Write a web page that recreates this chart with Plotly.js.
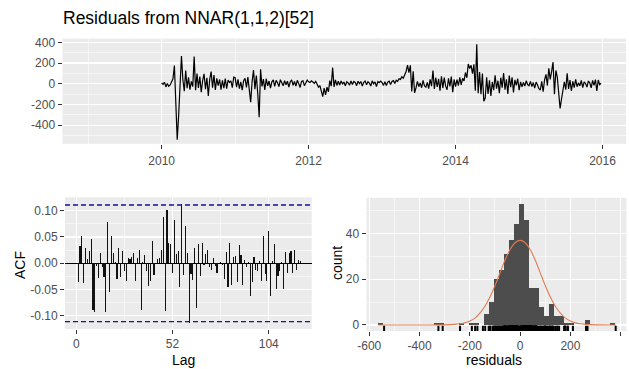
<!DOCTYPE html>
<html>
<head>
<meta charset="utf-8">
<script src="https://cdn.plot.ly/plotly-3.0.1.min.js"></script>
<style>html,body{margin:0;padding:0;background:#fff;}#chart{width:629px;height:369px;}</style>
</head>
<body>
<div id="chart"></div>
<script>
// ---- Data ----
const titleText = "Residuals from NNAR(1,1,2)[52]";
const startYear = 2010;
const frequency = 52;

const res2010 = [8, -6, 14, -31, 2, -24, -12, 19, 47, 175, -192, -541, -308, -57, 268, 38, -72, 127, -43, 61, -58, 22, -29, 262, -63, 97, -41, 68, -83, 31, 96, -52, 57, -118, 43, 117, -38, 83, -61, 52, -18, 41, -57, 33, -44, 49, -47, 36, 12, 27, -39, 63];
const res2011 = [58, -33, 42, -48, 17, -62, 28, 53, -37, 64, -88, -179, 21, 131, -53, 78, -97, -325, 139, -27, 44, -61, 48, -22, 26, -43, 18, 36, -26, 32, 9, -28, 39, 3, -21, 29, -11, 24, -32, 19, 37, -16, 21, -24, 33, 1, -36, 22, 28, -19, 13, 34];
const res2012 = [18, 11, 27, 14, 4, 23, -9, -33, -18, -63, -125, -42, -108, -34, -79, 29, -23, 155, -31, 38, -17, 24, -12, 26, -2, 16, -21, 18, 7, -14, 27, -8, 22, 12, -19, 24, 1, 21, -23, 13, 26, -11, 19, 6, -22, 28, -1, 17, -28, 21, 9, 24];
const res2013 = [11, -16, 19, -18, 16, 24, -7, 21, 29, 3, 34, 22, 48, 42, 67, 53, 88, 118, 180, 108, 178, -76, 121, -89, -41, 23, -29, 8, -39, 32, -21, -34, 12, -48, 43, -23, 128, -51, 58, -32, 47, -68, 71, -42, 59, -24, -59, 52, -27, 69, -81, 41];
const res2014 = [-28, 39, -19, 62, -11, 51, 27, 108, 57, 190, 147, 178, 98, 188, -69, 380, -91, 113, -102, 99, -170, -139, 61, -98, 32, -119, 17, -63, 82, -49, 29, -92, 58, -38, 102, -57, 43, -99, 78, -33, 62, -84, 37, -17, 48, -62, 18, -31, 13, -22, 28, -8];
const res2015 = [-19, 22, -28, 11, -42, 16, -13, -49, -61, 23, -78, 38, 91, -18, 148, 42, 119, 210, -101, 128, 63, -108, -239, -148, -39, 19, -58, 101, -51, 34, -69, 22, -37, 41, -29, 8, -21, 31, -38, 18, 2, -33, 26, 9, -41, 32, -17, 39, -71, 36, -9, 4];

const acfValues = [
 -0.035, 0.032, 0.051, -0.037, 0.029, 0.008, 0.024, 0.047, -0.088, -0.093,
 -0.005, -0.028, 0.019, -0.008, -0.027, -0.093, 0.078, -0.055, 0.051, 0.019,
 0.003, -0.029, 0.029, -0.026, 0.023, -0.015, -0.033, 0.011, 0.009, 0.012,
 0.019, -0.034, 0.010, 0.025, -0.089, 0.003, 0.015, -0.015, -0.044, -0.034,
 0.043, -0.022, 0.000, 0.009, 0.010, 0.026, 0.088, -0.091, 0.102, 0.038,
 0.037, -0.019, 0.082, 0.017, 0.023, -0.046, 0.113, -0.022, 0.070, 0.019,
 -0.114, -0.021, -0.031, 0.029, -0.085, 0.036, -0.025, 0.038, -0.004, 0.018,
 0.025, -0.008, -0.012, 0.011, -0.006, -0.019, 0.000, 0.002, -0.004, -0.029,
 0.021, -0.046, 0.039, -0.042, 0.012, 0.013, -0.035, 0.035, 0.016, -0.042,
 0.006, -0.008, 0.003, -0.062, -0.035, 0.012, -0.012, -0.014, 0.005, -0.033,
 0.051, -0.020, -0.033, 0.062, -0.062, 0.004, 0.037, -0.049, -0.024, -0.014,
 0.003, -0.048, 0.021, -0.018, 0.020, 0.023, -0.019, 0.025, -0.012, 0.006,
 0.004
];

const binCenters = [-554, -334, -314, -234, -194, -174, -134, -114, -94, -74, -54, -34, -14, 6, 26, 46, 66, 86, 106, 126, 146, 166, 186, 206, 266, 366];
const binCounts  = [1, 1, 1, 1, 1, 1, 5, 10, 20, 24, 31, 37, 44, 53, 46, 16, 16, 8, 4, 9, 4, 4, 1, 1, 2, 1];
const binWidth = 20;

const curveX = [-564, -400, -300, -260, -240, -220, -200, -180, -160, -140, -120, -100, -80, -60, -40, -20, 0, 20, 40, 60, 80, 100, 120, 140, 160, 180, 200, 220, 240, 260, 300, 380];
const curveY = [0, 0, 0.05, 0.25, 0.5, 0.9, 1.7, 3.0, 5.2, 8.2, 12.2, 17.2, 22.8, 28.4, 33.0, 36.0, 37.0, 36.0, 33.0, 28.4, 22.8, 17.2, 12.2, 8.2, 5.2, 3.0, 1.7, 0.9, 0.5, 0.25, 0.05, 0];

const tsTickVals = [2010, 2012, 2014, 2016];
const tsTickText = ["2010", "2012", "2014", "2016"];
const tsYTickVals = [-400, -200, 0, 200, 400];
const tsYTickText = ["-400", "-200", "0", "200", "400"];
const acfXTickVals = [0, 52, 104];
const acfXTickText = ["0", "52", "104"];
const acfYTickVals = [-0.10, -0.05, 0, 0.05, 0.10];
const acfYTickText = ["-0.10", "-0.05", "0.00", "0.05", "0.10"];
const histXTickVals = [-600, -400, -200, 0, 200, 400];
const histXTickText = ["-600", "-400", "-200", "0", "200", "400"];
const histYTickVals = [0, 20, 40];
const histYTickText = ["0", "20", "40"];

// ---- Build ----
const residuals = [].concat(res2010, res2011, res2012, res2013, res2014, res2015);
const time = residuals.map((_, i) => startYear + i / frequency);
const acfLags = acfValues.map((_, i) => i + 1);
const ci = 1.96 / Math.sqrt(residuals.length);

const W = 629, H = 369;
const px = v => v / W;
const py = v => 1 - v / H;

const FONT = "Liberation Sans, Arial, sans-serif";
const tickFont = {family: FONT, size: 12, color: "#4D4D4D"};
function ax(extra) {
  return Object.assign({
    showgrid: true, gridcolor: "#FFFFFF", gridwidth: 1.1,
    zeroline: false, showline: false,
    ticks: "outside", ticklen: 4, tickwidth: 1, tickcolor: "#333333",
    tickfont: tickFont, tickmode: "array", fixedrange: true
  }, extra);
}
function minor(vals) {
  return {tickvals: vals, showgrid: true, gridcolor: "#FFFFFF", gridwidth: 0.55, ticks: ""};
}

const traces = [
  {type: "scatter", mode: "lines", x: time, y: residuals, xaxis: "x", yaxis: "y",
   line: {color: "#000000", width: 1.2}, hoverinfo: "skip"},
  {type: "bar", x: acfLags, y: acfValues, xaxis: "x2", yaxis: "y2", width: 0.6,
   marker: {color: "#111111", line: {width: 0}}, hoverinfo: "skip"},
  {type: "bar", x: binCenters, y: binCounts, xaxis: "x3", yaxis: "y3", width: binWidth,
   marker: {color: "#4D4D4D", line: {width: 0}}, hoverinfo: "skip"},
  {type: "scatter", mode: "lines", x: curveX, y: curveY, xaxis: "x3", yaxis: "y3",
   line: {color: "#E07B4F", width: 1.1, shape: "spline"}, hoverinfo: "skip"},
  {type: "scatter", mode: "markers", x: residuals, y: residuals.map(() => -1.84), xaxis: "x3", yaxis: "y3",
   marker: {symbol: "line-ns-open", size: 5, line: {width: 2, color: "#000000"}, color: "#000000"}, hoverinfo: "skip"}
];

const layout = {
  width: W, height: H,
  margin: {l: 0, r: 0, t: 0, b: 0},
  paper_bgcolor: "#FFFFFF", plot_bgcolor: "#EBEBEB",
  showlegend: false, bargap: 0,
  title: {text: titleText, x: px(63), xref: "container", xanchor: "left", y: py(18), yref: "container", yanchor: "middle",
          font: {family: FONT, size: 17.5, color: "#000000"}},
  xaxis: ax({domain: [px(62.5), px(626)], anchor: "y", range: [2008.65, 2016.32], ticklabelstandoff: 2,
             tickvals: tsTickVals, ticktext: tsTickText, minor: minor([2009, 2011, 2013, 2015])}),
  yaxis: ax({domain: [py(143.8), py(38.6)], anchor: "x", range: [-581, 436],
             tickvals: tsYTickVals, ticktext: tsYTickText, minor: minor([-500, -300, -100, 100, 300])}),
  xaxis2: ax({domain: [px(65), px(311.7)], anchor: "y2", range: [-6.1, 127.2],
              tickvals: acfXTickVals, ticktext: acfXTickText, minor: minor([26, 78])}),
  yaxis2: ax({domain: [py(329), py(197.3)], anchor: "x2", range: [-0.125, 0.1255],
              tickvals: acfYTickVals, ticktext: acfYTickText, minor: minor([-0.075, -0.025, 0.025, 0.075]),
              zeroline: true, zerolinecolor: "#000000", zerolinewidth: 1}),
  xaxis3: ax({domain: [px(366.5), px(626.5)], anchor: "y3", range: [-611, 423],
              tickvals: histXTickVals, ticktext: histXTickText, minor: minor([-500, -300, -100, 100, 300])}),
  yaxis3: ax({domain: [py(331), py(197.8)], anchor: "x3", range: [-2.65, 55.65],
              tickvals: histYTickVals, ticktext: histYTickText, minor: minor([10, 30, 50])}),
  shapes: [
    {type: "line", xref: "x2 domain", yref: "y2", x0: 0, x1: 1, y0: ci, y1: ci,
     line: {color: "#12129E", width: 1.4, dash: "5px,3px"}},
    {type: "line", xref: "x2 domain", yref: "y2", x0: 0, x1: 1, y0: -ci, y1: -ci,
     line: {color: "#12129E", width: 1.4, dash: "5px,3px"}}
  ],
  annotations: [
    {text: "Lag", xref: "paper", yref: "paper", x: px(183), y: py(360), showarrow: false,
     xanchor: "center", yanchor: "middle", font: {family: FONT, size: 14, color: "#000000"}},
    {text: "residuals", xref: "paper", yref: "paper", x: px(494), y: py(360), showarrow: false,
     xanchor: "center", yanchor: "middle", font: {family: FONT, size: 14, color: "#000000"}},
    {text: "ACF", xref: "paper", yref: "paper", x: px(20), y: py(265), showarrow: false, textangle: -90,
     xanchor: "center", yanchor: "middle", font: {family: FONT, size: 14, color: "#000000"}},
    {text: "count", xref: "paper", yref: "paper", x: px(337), y: py(263), showarrow: false, textangle: -90,
     xanchor: "center", yanchor: "middle", font: {family: FONT, size: 14, color: "#000000"}}
  ]
};

Plotly.newPlot("chart", traces, layout, {staticPlot: true, displayModeBar: false});
</script>
</body>
</html>
